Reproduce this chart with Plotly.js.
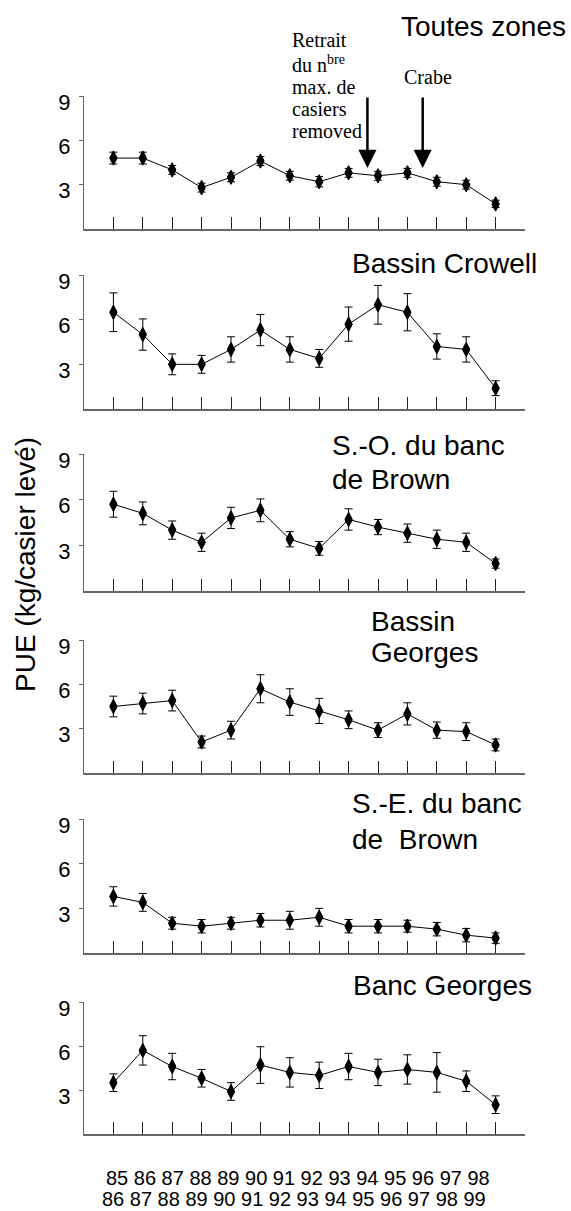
<!DOCTYPE html>
<html>
<head>
<meta charset="utf-8">
<script src="https://cdn.plot.ly/plotly-3.0.1.min.js"></script>
<style>html,body{margin:0;padding:0;background:#fff;}#chart{width:571px;height:1211px;}</style>
</head>
<body>
<div id="chart"></div>
<script>
// ---- data ----
const seasons = ['85-86','86-87','87-88','88-89','89-90','90-91','91-92','92-93','93-94','94-95','95-96','96-97','97-98','98-99'];
const labelsTop = ['85','86','87','88','89','90','91','92','93','94','95','96','97','98'];
const labelsBottom = ['86','87','88','89','90','91','92','93','94','95','96','97','98','99'];

const toutesZones    = [4.8, 4.8, 4.0, 2.8, 3.5, 4.6, 3.6, 3.2, 3.8, 3.6, 3.8, 3.2, 3.0, 1.7];
const toutesZonesErr = [0.4, 0.4, 0.3, 0.3, 0.3, 0.3, 0.3, 0.35, 0.3, 0.3, 0.3, 0.3, 0.3, 0.25];
const bassinCrowell    = [6.5, 5.0, 3.0, 3.0, 4.0, 5.3, 4.0, 3.4, 5.7, 7.0, 6.5, 4.2, 4.0, 1.4];
const bassinCrowellErr = [1.3, 1.05, 0.7, 0.6, 0.85, 1.05, 0.85, 0.6, 1.15, 1.3, 1.25, 0.85, 0.85, 0.5];
const soBrown    = [5.7, 5.1, 4.0, 3.2, 4.8, 5.3, 3.4, 2.8, 4.7, 4.2, 3.8, 3.4, 3.2, 1.8];
const soBrownErr = [0.85, 0.75, 0.6, 0.6, 0.7, 0.75, 0.5, 0.45, 0.7, 0.5, 0.6, 0.6, 0.6, 0.3];
const bassinGeorges    = [4.5, 4.7, 4.9, 2.1, 2.9, 5.7, 4.8, 4.2, 3.6, 2.9, 4.0, 2.9, 2.8, 1.9];
const bassinGeorgesErr = [0.7, 0.7, 0.7, 0.4, 0.6, 0.95, 0.9, 0.85, 0.6, 0.5, 0.75, 0.55, 0.6, 0.4];
const seBrown    = [3.8, 3.4, 2.0, 1.8, 2.0, 2.2, 2.2, 2.4, 1.8, 1.8, 1.8, 1.6, 1.2, 1.0];
const seBrownErr = [0.65, 0.6, 0.4, 0.45, 0.4, 0.45, 0.6, 0.6, 0.45, 0.45, 0.4, 0.45, 0.45, 0.35];
const bancGeorges    = [3.5, 5.7, 4.6, 3.8, 2.9, 4.7, 4.2, 4.0, 4.6, 4.2, 4.4, 4.2, 3.6, 2.0];
const bancGeorgesErr = [0.6, 1.0, 0.9, 0.6, 0.6, 1.25, 1.0, 0.9, 0.9, 0.9, 1.0, 1.35, 0.7, 0.6];

const panelTitles = [
  ['Toutes zones'],
  ['Bassin Crowell'],
  ['S.-O. du banc', 'de Brown'],
  ['Bassin', 'Georges'],
  ['S.-E. du banc', 'de  Brown'],
  ['Banc Georges']
];
const yTitle = 'PUE (kg/casier levé)';
const noteLines = ['Retrait', 'du n<sup>bre</sup>', 'max. de', 'casiers', 'removed'];
const crabeLabel = 'Crabe';
const eventSeasonPos = [9.64, 11.52]; // arrow positions on the season axis (between seasons)

// ---- layout helpers ----
const W = 571, H = 1211;
const px = x => x / W;
const py = y => 1 - y / H;
const SANS = 'Arial, "Liberation Sans", sans-serif';
const SERIF = '"Times New Roman", "Liberation Serif", serif';

const series = [
  [toutesZones, toutesZonesErr],
  [bassinCrowell, bassinCrowellErr],
  [soBrown, soBrownErr],
  [bassinGeorges, bassinGeorgesErr],
  [seBrown, seBrownErr],
  [bancGeorges, bancGeorgesErr]
];
// panel pixel extents: [top (y=9), bottom (axis)]
const panelPx = [[96, 229], [275, 409], [454, 591], [640, 773], [819, 953], [1002, 1134]];
const xs = seasons.map((_, i) => i + 1);

const traces = [];
const layout = {
  width: W, height: H,
  margin: {l: 0, r: 0, t: 0, b: 0, autoexpand: false},
  paper_bgcolor: '#fff', plot_bgcolor: '#fff',
  showlegend: false,
  font: {family: SANS, color: '#000'},
  annotations: [], shapes: []
};

series.forEach(([vals, errs], i) => {
  const n = i === 0 ? '' : String(i + 1);
  traces.push({
    type: 'scatter', mode: 'lines+markers',
    x: xs, y: vals,
    xaxis: 'x' + n, yaxis: 'y' + n,
    line: {color: '#000', width: 1},
    marker: {symbol: 'diamond-tall', size: 10, color: '#000', line: {color: '#000', width: 1.2}},
    error_y: {type: 'data', array: errs, visible: true, color: '#000', thickness: 1, width: 4},
    hoverinfo: 'skip'
  });
  // rounder body of the elliptical markers
  traces.push({
    type: 'scatter', mode: 'markers',
    x: xs, y: vals,
    xaxis: 'x' + n, yaxis: 'y' + n,
    marker: {symbol: 'circle', size: 7, color: '#000', line: {width: 0}},
    hoverinfo: 'skip'
  });
  const [top, bot] = panelPx[i];
  layout['xaxis' + n] = {
    domain: [px(84), px(525)], range: [0, 15], anchor: 'y' + n,
    showgrid: false, zeroline: false, showline: true, linecolor: '#666', linewidth: 1.5,
    ticks: 'inside', ticklen: 12, tickwidth: 1, tickcolor: '#222',
    tickmode: 'array', tickvals: xs.concat([xs.length + 1]), showticklabels: false, fixedrange: true
  };
  layout['yaxis' + n] = {
    domain: [py(bot), py(top)], range: [0, 9], anchor: 'x' + n,
    showgrid: false, zeroline: false, showline: true, linecolor: '#666', linewidth: 1,
    ticks: 'outside', ticklen: 4, tickwidth: 1, tickcolor: '#666',
    tickmode: 'array', tickvals: [3, 6, 9],
    tickfont: {family: SANS, size: 22, color: '#000'},
    ticklabelstandoff: 4, ticklabelshift: 6, fixedrange: true
  };
});

// panel titles
const titlePos = [
  {x: 568, anchor: 'right', ys: [27]},
  {x: 350, anchor: 'left', ys: [263]},
  {x: 330, anchor: 'left', ys: [445, 479]},
  {x: 369, anchor: 'left', ys: [621, 653]},
  {x: 350, anchor: 'left', ys: [803, 839]},
  {x: 351, anchor: 'left', ys: [985]}
];
panelTitles.forEach((lines, i) => {
  lines.forEach((t, j) => {
    layout.annotations.push({
      xref: 'paper', yref: 'paper', x: px(titlePos[i].x), y: py(titlePos[i].ys[j]),
      xanchor: titlePos[i].anchor, yanchor: 'middle', text: t, showarrow: false,
      font: {family: SANS, size: 28, color: '#000'}
    });
  });
});

// y-axis title
layout.annotations.push({
  xref: 'paper', yref: 'paper', x: px(25), y: py(565), xanchor: 'center', yanchor: 'middle',
  text: yTitle, textangle: -90, showarrow: false, font: {family: SANS, size: 28, color: '#000'}
});

// season labels (two rows)
layout.annotations.push({
  xref: 'paper', yref: 'paper', x: px(298), y: py(1178), xanchor: 'center', yanchor: 'middle',
  text: labelsTop.join(' '), showarrow: false, borderpad: 0, font: {family: SANS, size: 20, color: '#000'}
});
layout.annotations.push({
  xref: 'paper', yref: 'paper', x: px(294), y: py(1199), xanchor: 'center', yanchor: 'middle',
  text: labelsBottom.join(' '), showarrow: false, borderpad: 0, font: {family: SANS, size: 20, color: '#000'}
});

// note text (serif)
const noteYs = [40, 64, 87, 109, 131];
noteLines.forEach((t, j) => {
  layout.annotations.push({
    xref: 'paper', yref: 'paper', x: px(290), y: py(noteYs[j]), xanchor: 'left', yanchor: 'middle',
    text: t, showarrow: false, font: {family: SERIF, size: 20, color: '#000'}
  });
});
layout.annotations.push({
  xref: 'paper', yref: 'paper', x: px(402), y: py(77), xanchor: 'left', yanchor: 'middle',
  text: crabeLabel, showarrow: false, font: {family: SERIF, size: 20, color: '#000'}
});

// arrows (panel 1)
eventSeasonPos.forEach(xp => {
  layout.annotations.push({
    xref: 'x', yref: 'y', x: xp, y: 4.13, axref: 'x', ayref: 'y', ax: xp, ay: 9,
    text: '', showarrow: true, arrowhead: 2, arrowsize: 1.45, arrowwidth: 2.5, arrowcolor: '#000', standoff: 0
  });
});

Plotly.newPlot('chart', traces, layout, {displayModeBar: false, staticPlot: true});
</script>
</body>
</html>
